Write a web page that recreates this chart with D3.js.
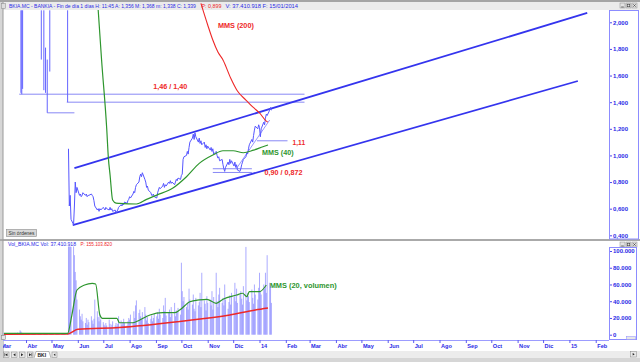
<!DOCTYPE html>
<html><head><meta charset="utf-8">
<script src="https://cdn.jsdelivr.net/npm/d3@7"></script>
<style>
body{margin:0;background:#d6d6d6;}
svg{display:block;font-family:"Liberation Sans",Arial,sans-serif;}
</style></head><body>
<svg id="c" width="640" height="362"></svg>
<script>
// ---------------- DATA ----------------
const priceStart = "2013-05-21";           // first post-split session (weekdays follow)
const priceClose = [
 1.05,0.62,0.70,0.52,0.48,0.62,0.80,0.72,0.76,
 0.70,0.71,0.69,0.70,0.72, 0.70,0.71,0.69,0.70,0.70, 0.71,0.70,0.69,0.66,0.62, 0.59,0.60,0.58,0.60,0.59,
 0.61,0.60,0.59,0.61,0.60, 0.59,0.61,0.59,0.60,0.58, 0.59,0.57,0.58,0.59,0.61, 0.63,0.62,0.64,0.63,0.65, 0.64,0.66,0.67,
 0.69,0.68, 0.71,0.73,0.72,0.76,0.78, 0.80,0.84,0.86,0.84,0.87, 0.82,0.80,0.76,0.77,0.74, 0.72,0.70,0.70,0.71,0.69,
 0.68,0.72,0.74,0.76,0.75, 0.77,0.79,0.76,0.78,0.77, 0.80,0.79,0.81,0.79,0.80, 0.78,0.80,0.82,0.81,0.83, 0.82,
 0.85,0.86,0.97,0.99, 1.00,1.03,1.01,1.06,1.10, 1.13,1.16,1.12,1.17,1.14, 1.10,1.13,1.09,1.11,1.08, 1.10,1.06,1.08,1.05,
 1.07, 1.04,1.06,1.03,1.05,1.01, 1.03,1.00,0.98,0.99,0.96, 0.97,0.93,0.90,0.88,0.91, 0.95,0.93,0.97,0.94,0.96,
 0.92,0.95,0.91,0.93,0.89, 0.88,0.90,0.93,0.95,0.97, 0.99,1.02,1.01,1.05,1.08, 1.12,1.10,1.15,1.19,1.22, 1.20,1.23,
 1.21,1.14,1.20, 1.25,1.23,1.28,1.31,1.30, 1.34,1.36,1.339
];
const volumes = [
 165000,150000,130000,105000,120000,95000,75000,65000,42000,
 30000,22000,18000,25000,16000,14000,20000,12000,18000,15000,22000,17000,13000,19000,42000,28000,21000,16000,24000,18000,
 15000,12000,10000,14000,11000,18000,13000,9000,12000,16000,11000,14000,10000,13000,22000,17000,12000,15000,19000,14000,11000,16000,20000,
 18000,24000,15000,28000,20000,35000,41000,26000,30000,22000,19000,27000,33000,24000,17000,21000,14000,19000,23000,16000,20000,25000,
 22000,27000,19000,31000,24000,20000,35000,28000,44000,23000,26000,30000,21000,33000,25000,38000,22000,29000,27000,32000,24000,
 86000,52000,40000,45000,33000,38000,30000,55000,42000,36000,48000,31000,28000,44000,35000,39000,50000,33000,74000,41000,37000,29000,46000,
 38000,42000,35000,52000,30000,45000,74000,40000,33000,48000,56000,38000,44000,35000,60000,42000,31000,39000,47000,36000,50000,
 45000,62000,40000,55000,38000,48000,52000,43000,36000,58000,105000,41000,50000,46000,39000,54000,44000,37000,60000,48000,42000,56000,
 74000,52000,48000,60000,55000,74000,50000,95000,62000,58000,38000
];
const preVolStart = "2013-03-01";
const preVolumes = [
 1500,1200,1800,1300,1100,1600,1400,1200,1900,1500,1300,1700,2200,1800,1600,2500,5200,3800,2400,1900,1700,
 1500,1400,1200,1600,1300,1100,1500,1400,1200,1300,1800,1500,1200,1400,1600,2100,1700,1400,1900,1500,1300,1200,
 1100,1300,1000,1200,1400,1100,1300,1000,1200,1500,1100,1000,1300,2000
];
// pre-split sessions (high runs off the chart)
const preBarDates = ["2013-03-26","2013-03-27","2013-03-28","2013-04-19","2013-04-22","2013-04-24","2013-04-26","2013-04-29","2013-05-20"];
const preBarHigh  = [2.09,2.09,2.09,2.09,2.09,1.81,1.72,2.09,2.09];
const preBarLow   = [1.47,1.46,1.50,1.72,1.49,1.47,1.32,1.63,1.40];

const mms40Dates  = ["2013-06-25","2013-06-29","2013-07-05","2013-07-07","2013-07-09","2013-07-12","2013-07-16","2013-07-20","2013-08-09","2013-08-21","2013-09-02","2013-09-21","2013-10-07","2013-10-22","2013-11-07","2013-11-19","2013-12-01","2013-12-13","2013-12-25","2014-01-05","2014-01-11"];
const mms40Values = [2.092,1.717,1.206,0.98,0.853,0.665,0.642,0.640,0.635,0.670,0.702,0.755,0.84,0.94,1.003,1.035,1.035,1.02,1.04,1.065,1.078];
const mms200Dates  = ["2013-10-24","2013-11-01","2013-11-07","2013-11-13","2013-11-19","2013-11-28","2013-12-06","2013-12-16","2013-12-24","2014-01-01","2014-01-09","2014-01-11"];
const mms200Values = [2.142,1.98,1.867,1.777,1.717,1.582,1.484,1.416,1.364,1.319,1.258,1.25];

const volMms20Dates  = ["2013-03-06","2013-05-20","2013-05-25","2013-05-31","2013-06-09","2013-06-18","2013-06-22","2013-06-27","2013-06-30","2013-07-17","2013-07-20","2013-08-05","2013-08-13","2013-08-25","2013-09-09","2013-09-23","2013-09-29","2013-10-11","2013-10-22","2013-10-31","2013-11-11","2013-11-19","2013-12-05","2013-12-12","2013-12-17","2013-12-20","2014-01-01","2014-01-09"];
const volMms20Values = [1700,1700,23500,53400,59400,61400,60600,23500,19600,19600,14300,14300,17600,23500,26300,26300,29500,39400,41500,42300,37500,42300,47400,49500,45400,51400,51400,59400];
const volMmsLongDates  = ["2013-03-06","2013-05-20","2013-06-01","2013-07-20","2013-09-29","2013-11-27","2013-12-27","2014-01-11"];
const volMmsLongValues = [500,800,6450,8600,15800,23500,29500,31900];

// channel and support/resistance lines
const channelUpperDates = ["2013-05-28","2015-01-22"], channelUpperValues = [0.905,2.07];
const channelLowerDates = ["2013-05-26","2015-01-11"], channelLowerValues = [0.477,1.559];
const levelValues = [1.46,1.40,1.32,1.11,0.90,0.872];
const levelFrom   = ["2013-03-24","2013-05-19","2013-04-26","2013-12-29","2013-11-07","2013-11-07"];
const levelTo     = ["2014-02-23","2014-02-23","2013-05-28","2014-02-03","2013-12-23","2013-12-23"];
const trendDates = ["2013-12-05","2014-01-13"], trendValues = [0.903,1.266];

const priceTicks = [0.4,0.6,0.8,1.0,1.2,1.4,1.6,1.8,2.0];
const priceTickLabels = ["0,400","0,600","0,800","1,000","1,200","1,400","1,600","1,800","2,000"];
const volTicks = [0,20000,40000,60000,80000,100000];
const volTickLabels = ["0","20.000","40.000","60.000","80.000","100.000"];
const monthLabels = ["Mar","Abr","May","Jun","Jul","Ago","Sep","Oct","Nov","Dic","14","Feb","Mar","Abr","May","Jun","Jul","Ago","Sep","Oct","Nov","Dic","15","Feb"];

// ---------------- CHART ----------------
const parse = d3.timeParse("%Y-%m-%d");
function weekdays(start, n){
  const out=[]; const d=parse(start);
  while(out.length<n){ const w=d.getDay(); if(w!==0&&w!==6) out.push(new Date(d)); d.setDate(d.getDate()+1); }
  return out;
}
const svg = d3.select("#c");
const x  = d3.scaleTime().domain([parse("2013-03-01"), parse("2015-03-01")]).range([-0.3, 619.5]);
const yP = d3.scaleLinear().domain([0.4, 2.0]).range([235.3, 22.3]);
const yV = d3.scaleLinear().domain([0, 100000]).range([334.7, 251]);

const BLUE_TXT="#2a2ae6", RED="#ee2828", GREEN="#2e962e";

// frame & panels
svg.append("rect").attr("width",640).attr("height",362).attr("fill","#d6d6d6");
svg.append("rect").attr("x",0).attr("y",0).attr("width",640).attr("height",2).attr("fill","#a4a4a4");
svg.append("rect").attr("x",3).attr("y",2).attr("width",637).attr("height",8).attr("fill","#ebebeb");
svg.append("rect").attr("x",3).attr("y",10).attr("width",637).attr("height",229).attr("fill","#fff");
svg.append("rect").attr("x",0).attr("y",239).attr("width",640).attr("height",2).attr("fill","#aaaaaa");
svg.append("rect").attr("x",3).attr("y",241).attr("width",637).attr("height",110).attr("fill","#fff");
svg.append("rect").attr("x",3).attr("y",351).attr("width",637).attr("height",7).attr("fill","#ececec");
svg.append("line").attr("x1",3).attr("x2",3).attr("y1",2).attr("y2",358).attr("stroke","#9a9a9a");

const defs = svg.append("defs");
defs.append("clipPath").attr("id","cp").append("rect").attr("x",3.5).attr("y",10).attr("width",605).attr("height",229);
defs.append("clipPath").attr("id","cp2").append("rect").attr("x",3.5).attr("y",2.5).attr("width",605).attr("height",236);
defs.append("clipPath").attr("id","cv").append("rect").attr("x",3.5).attr("y",246.5).attr("width",605).attr("height",93.5);

// ----- price panel -----
const gp = svg.append("g").attr("clip-path","url(#cp)");
const lineP = d3.line().x(d=>x(d[0])).y(d=>yP(d[1]));

levelValues.forEach((v,i)=>{
  gp.append("line").attr("x1",x(parse(levelFrom[i]))).attr("x2",x(parse(levelTo[i])))
    .attr("y1",yP(v)).attr("y2",yP(v)).attr("stroke","#7b7bf4").attr("stroke-width",0.9);
});
preBarDates.forEach((d,i)=>{
  gp.append("line").attr("x1",x(parse(d))).attr("x2",x(parse(d)))
    .attr("y1",yP(preBarHigh[i])).attr("y2",yP(preBarLow[i])).attr("stroke","#6464ff").attr("stroke-width",1);
});
[[channelUpperDates,channelUpperValues],[channelLowerDates,channelLowerValues]].forEach(([ds,vs])=>{
  gp.append("path").datum(ds.map((d,i)=>[parse(d),vs[i]])).attr("d",lineP)
    .attr("fill","none").attr("stroke","#3434ee").attr("stroke-width",1.8);
});
gp.append("path").datum(trendDates.map((d,i)=>[parse(d),trendValues[i]])).attr("d",lineP)
  .attr("fill","none").attr("stroke","#8a8aff").attr("stroke-width",0.9);
const pDates = weekdays(priceStart, priceClose.length);
gp.append("path").datum(priceClose.map((v,i)=>[pDates[i],v])).attr("d",lineP)
  .attr("fill","none").attr("stroke","#5656ff").attr("stroke-width",1);
const smooth = d3.line().curve(d3.curveMonotoneX).x(d=>x(d[0])).y(d=>yP(d[1]));
gp.append("path").datum(mms40Dates.map((d,i)=>[parse(d),mms40Values[i]])).attr("d",smooth)
  .attr("fill","none").attr("stroke",GREEN).attr("stroke-width",1.2);
svg.append("g").attr("clip-path","url(#cp2)").append("path")
  .datum(mms200Dates.map((d,i)=>[parse(d),mms200Values[i]])).attr("d",smooth)
  .attr("fill","none").attr("stroke",RED).attr("stroke-width",1.1);

// annotations
function ann(txt, date, val, col, len, ys){
  svg.append("text").attr("x",x(parse(date))).attr("y",(ys||yP)(val)).text(txt)
    .attr("fill",col).attr("font-weight","bold").attr("font-size",7)
    .attr("textLength",len).attr("lengthAdjust","spacingAndGlyphs");
}
ann("MMS (200)","2013-11-13",1.957,RED,36);
ann("1,46 / 1,40","2013-08-29",1.499,RED,34);
ann("1,11","2014-02-09",1.078,RED,12.5);
ann("MMS (40)","2014-01-04",1.003,GREEN,31.5);
ann("0,90 / 0,872","2014-01-07",0.853,RED,38);
ann("MMS (20, volumen)","2014-01-13",55800,GREEN,67,yV);

// compressed header texts: natural size, then horizontally scaled to the target width
function tbar(txt, x0, len, col, y, fs){
  const g = svg.append("g");
  const t = g.append("text").attr("x",0).attr("y",0).attr("font-size",fs).attr("fill",col).text(txt);
  const w = t.node().getComputedTextLength();
  g.attr("transform",`translate(${x0},${y}) scale(${len/w},1)`);
}
tbar("BKIA.MC - BANKIA - Fin de día 1 días H: 11:45 A: 1,356 M: 1,368 m: 1,338 C: 1,339", 9, 187, BLUE_TXT, 8.3, 5.4);
tbar("P: 0,899", 201.5, 20, RED, 8.3, 5.4);
tbar("V: 37.410.918 F: 15/01/2014", 225.5, 72.5, BLUE_TXT, 8.3, 5.4);
svg.append("rect").attr("x",1.5).attr("y",3.5).attr("width",4).attr("height",5).attr("fill","#ddd").attr("stroke","#888").attr("stroke-width",0.5);

// price axis box
svg.append("rect").attr("x",609.5).attr("y",10.5).attr("width",29).attr("height",228.5).attr("fill","#fff").attr("stroke","#8c8cff");
const ax1 = svg.append("g").attr("transform","translate(610,0)")
  .call(d3.axisRight(yP).tickValues(priceTicks).tickFormat((d,i)=>priceTickLabels[i]).tickSize(2).tickPadding(1));
ax1.select(".domain").remove();
ax1.selectAll("line").attr("stroke","#4a4af0");
ax1.selectAll("text").attr("fill",BLUE_TXT).attr("font-size",6).attr("font-weight","bold").attr("font-family","Liberation Sans, Arial");

function winBtns(y){
  [620,626,632].forEach(bx=>{
    svg.append("rect").attr("x",bx).attr("y",y).attr("width",5).attr("height",5).attr("fill","#e2e2e2").attr("stroke","#8a8a8a").attr("stroke-width",0.5);
  });
  svg.append("line").attr("x1",621.2).attr("x2",623.8).attr("y1",y+4).attr("y2",y+4).attr("stroke","#333").attr("stroke-width",0.7);
  svg.append("rect").attr("x",627.2).attr("y",y+1.2).attr("width",2.6).attr("height",2.6).attr("fill","none").attr("stroke","#333").attr("stroke-width",0.6);
  svg.append("path").attr("d",`M633.2,${y+1.2}L635.8,${y+3.8}M635.8,${y+1.2}L633.2,${y+3.8}`).attr("stroke","#333").attr("stroke-width",0.6);
}
winBtns(3);
winBtns(242);

svg.append("rect").attr("x",6.5).attr("y",229.5).attr("width",30).attr("height",7).attr("fill","#d8d8d8").attr("stroke","#8a8a8a").attr("stroke-width",0.6);
tbar("Sin órdenes", 8.5, 26, "#333", 235, 4.6);

// ----- volume panel -----
tbar("Vol_BKIA.MC  Vol: 37.410.918", 8, 68, BLUE_TXT, 246.3, 5.2);
tbar("P: 155.103.820", 80.5, 31.5, RED, 246.3, 5.2);

const gv = svg.append("g").attr("clip-path","url(#cv)");
const preDates = weekdays(preVolStart, preVolumes.length);
const allVol = preVolumes.map((v,i)=>[preDates[i],v]).concat(volumes.map((v,i)=>[pDates[i],v]));
gv.selectAll("rect.vb").data(allVol).enter().append("rect").attr("class","vb")
  .attr("x",d=>x(d[0])-0.5).attr("width",1)
  .attr("y",d=>yV(d[1])).attr("height",d=>yV(0)-yV(d[1]))
  .attr("fill","#7474ff").attr("fill-opacity",0.6);
const smoothV = d3.line().curve(d3.curveMonotoneX).x(d=>x(d[0])).y(d=>yV(d[1]));
gv.append("path").datum(volMmsLongDates.map((d,i)=>[parse(d),volMmsLongValues[i]])).attr("d",smoothV)
  .attr("fill","none").attr("stroke",RED).attr("stroke-width",1.5);
gv.append("path").datum(volMms20Dates.map((d,i)=>[parse(d),volMms20Values[i]])).attr("d",smoothV)
  .attr("fill","none").attr("stroke",GREEN).attr("stroke-width",1.2);

svg.append("rect").attr("x",609.5).attr("y",247.5).attr("width",27).attr("height",92).attr("fill","#fff").attr("stroke","#8c8cff");
const ax2 = svg.append("g").attr("transform","translate(610,0)")
  .call(d3.axisRight(yV).tickValues(volTicks).tickFormat((d,i)=>volTickLabels[i]).tickSize(2).tickPadding(1));
ax2.select(".domain").remove();
ax2.selectAll("line").attr("stroke","#4a4af0");
ax2.selectAll("text").attr("fill",BLUE_TXT).attr("font-size",6).attr("font-weight","bold").attr("font-family","Liberation Sans, Arial");
svg.append("rect").attr("x",626.5).attr("y",336.5).attr("width",9).attr("height",3).attr("fill","#e6e6e6").attr("stroke","#8c8cff").attr("stroke-width",0.5);

// ----- x axis -----
svg.append("line").attr("x1",3).attr("x2",609).attr("y1",340.5).attr("y2",340.5).attr("stroke","#9c9cff");
const monthTicks = d3.timeMonth.range(parse("2013-03-01"), parse("2015-03-01"));
const ax3 = svg.append("g").attr("transform","translate(0,340)")
  .call(d3.axisBottom(x).tickValues(monthTicks).tickFormat((d,i)=>monthLabels[i]).tickSize(3).tickPadding(1.5));
ax3.select(".domain").remove();
ax3.selectAll("line").attr("stroke","#5a5af0");
ax3.selectAll("text").attr("text-anchor","start").attr("dx",1).attr("fill",BLUE_TXT)
  .attr("font-size",5.6).attr("font-weight","bold").attr("font-family","Liberation Sans, Arial");
svg.append("rect").attr("x",0).attr("y",340).attr("width",3).attr("height",22).attr("fill","#d6d6d6");
svg.append("rect").attr("x",1.5).attr("y",335.5).attr("width",4).attr("height",4).attr("fill","#e4e4e4").attr("stroke","#777").attr("stroke-width",0.5);

// ----- nav bar -----
const nav = [3.5,11.5,19.5,27.5];
nav.forEach((bx,i)=>{
  svg.append("rect").attr("x",bx).attr("y",352).attr("width",5.5).attr("height",5.5).attr("fill","#e8e8e8").attr("stroke","#888").attr("stroke-width",0.5);
  const cx=bx+2.75, cy=354.75;
  const left = (i<2);
  svg.append("path").attr("d", left ? `M${cx+1.2},${cy-1.6}L${cx-1},${cy}L${cx+1.2},${cy+1.6}Z` : `M${cx-1.2},${cy-1.6}L${cx+1},${cy}L${cx-1.2},${cy+1.6}Z`).attr("fill","#222");
  if(i===0) svg.append("line").attr("x1",cx-1.5).attr("x2",cx-1.5).attr("y1",cy-1.6).attr("y2",cy+1.6).attr("stroke","#222").attr("stroke-width",0.6);
  if(i===3) svg.append("line").attr("x1",cx+1.5).attr("x2",cx+1.5).attr("y1",cy-1.6).attr("y2",cy+1.6).attr("stroke","#222").attr("stroke-width",0.6);
});
svg.append("path").attr("d","M34,358L36,351.5L49,351.5L51,358").attr("fill","#fff").attr("stroke","#777").attr("stroke-width",0.5);
svg.append("text").attr("x",37.5).attr("y",356.6).attr("font-size",5).attr("font-weight","bold").attr("fill","#222").text("BKI");
svg.append("rect").attr("x",52).attr("y",352).attr("width",5).attr("height",5.5).attr("fill","#e8e8e8").attr("stroke","#888").attr("stroke-width",0.5);
svg.append("path").attr("d","M55.3,353.4L53.6,354.75L55.3,356.1Z").attr("fill","#222");
svg.append("rect").attr("x",630.5).attr("y",351.5).attr("width",6).attr("height",5.5).attr("fill","#e8e8e8").attr("stroke","#888").attr("stroke-width",0.5);
svg.append("path").attr("d","M632.7,352.9L634.7,354.25L632.7,355.6Z").attr("fill","#222");
</script>
</body></html>
